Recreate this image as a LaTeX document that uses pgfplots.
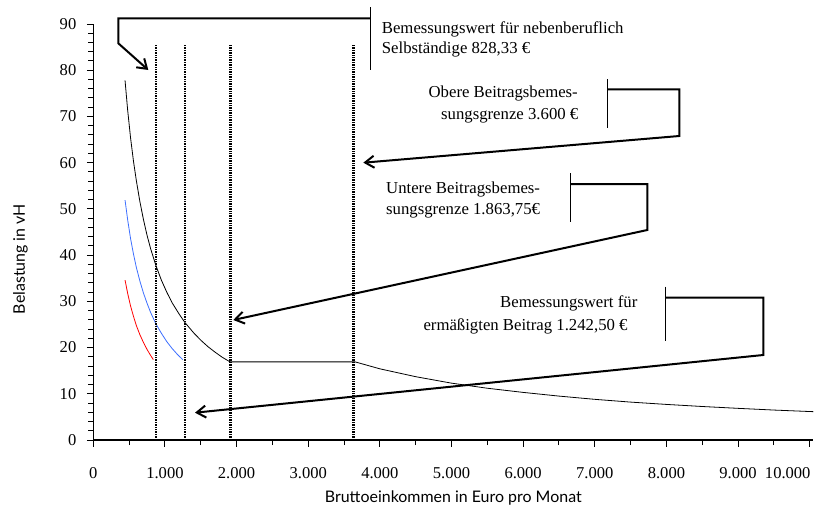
\documentclass[border=0pt]{standalone}
\usepackage{fontspec}
\setmainfont{Liberation Serif}
\newfontfamily\labelfont{Lato}
\usepackage{pgfplots}
\pgfplotsset{compat=1.18}
\usetikzlibrary{arrows.meta}
\newcommand{\annfont}{\fontsize{16.8}{21}\selectfont}
\begin{document}
\begin{tikzpicture}
\path[use as bounding box] (0,0) rectangle (814bp,-508bp);
\begin{axis}[
  at={(93.3bp,-440bp)}, anchor=south west,
  scale only axis, width=720bp, height=416bp,
  xmin=0, xmax=10050, ymin=0, ymax=90,
  axis lines=left, axis line style={-, line width=1.1bp},
  xtick={0,1000,...,10000}, minor x tick num=1,
  xticklabels={0,1.000,2.000,3.000,4.000,5.000,6.000,7.000,8.000,9.000,{\hspace*{-44bp}10.000}},
  ytick={0,10,...,90}, minor y tick num=4,
  scaled ticks=false,
  tick align=outside, tick style={line width=1bp, black},
  major tick length=6.5bp, minor tick length=5bp,
  /pgf/number format/1000 sep={.},
  /pgf/number format/assume math mode=true,
  tick label style={font=\fontsize{16.6}{19}\selectfont},
  xticklabel style={yshift=-17bp},
  yticklabel style={xshift=-7bp},
  xlabel={Bruttoeinkommen in Euro pro Monat},
  ylabel={Belastung in vH},
  label style={font=\labelfont\fontsize{16}{19}\selectfont},
  xlabel style={at={(axis description cs:0.5,-0.1514)}, anchor=base},
  ylabel style={at={(axis description cs:-0.1011,0.435)}, anchor=center},
  clip=false,
]
% black curve
\addplot[black, line width=0.8bp] coordinates {
(443,77.8) (480,71.3) (520,65.4) (560,60.4) (600,56.2) (650,51.6) (700,47.7)
(750,44.3) (800,41.4) (875,37.7) (950,34.6) (1025,32.0) (1100,29.7) (1200,27.2)
(1280,25.4) (1400,23.2) (1500,21.6) (1600,20.2) (1700,19.0) (1800,17.9) (1909,16.9)
(3655,16.9) (4000,15.4) (4500,13.7) (5000,12.3) (5500,11.2) (6000,10.3) (6500,9.5)
(7000,8.8) (7500,8.2) (8000,7.7) (8500,7.25) (9000,6.85) (9500,6.48) (10050,6.13)};
% blue curve
\addplot[color={rgb,255:red,60;green,110;blue,255}, line width=0.8bp] coordinates {
(443,51.9) (480,47.6) (520,43.6) (560,40.3) (600,37.4) (650,34.4) (700,31.8)
(750,29.6) (800,27.6) (875,25.1) (950,23.1) (1025,21.3) (1100,19.8) (1175,18.5) (1248,17.4)};
% red curve
\addplot[color={rgb,255:red,255;green,0;blue,0}, line width=0.8bp] coordinates {
(443,34.6) (480,31.7) (520,29.0) (560,26.8) (600,24.8) (650,22.8) (700,21.1)
(750,19.6) (800,18.3) (838,17.4)};
% dotted vertical markers
\addplot[black, line width=2.8bp, dash pattern=on 1.5bp off 0.9bp] coordinates {(875,0) (875,85.4)};
\addplot[black, line width=2.8bp, dash pattern=on 1.5bp off 0.9bp] coordinates {(1280,0) (1280,85.4)};
\addplot[black, line width=2.8bp, dash pattern=on 1.5bp off 0.9bp] coordinates {(1920,0) (1920,85.4)};
\addplot[black, line width=2.8bp, dash pattern=on 1.5bp off 0.9bp] coordinates {(3630,0) (3630,85.4)};
\end{axis}
\begin{scope}[x=1bp,y=-1bp]
% callout 1
\draw[line width=0.9bp] (370,7) -- (370,70);
\draw[line width=2bp, line join=miter, -{Straight Barb[length=9bp,width=12bp]}] (370,18.3) -- (118.3,18.3) -- (118.3,43.3) -- (148.3,70);
\node[anchor=base west, inner sep=0, font=\annfont] at (381.7,33) {Bemessungswert für nebenberuflich};
\node[anchor=base west, inner sep=0, font=\annfont] at (381.7,53.5) {Selbständige 828,33 €};
% callout 2
\draw[line width=0.9bp] (607.3,79) -- (607.3,128);
\draw[line width=2bp, line join=miter, -{Straight Barb[length=9bp,width=12bp]}] (607.3,89.3) -- (679.3,89.3) -- (679.3,136) -- (363.3,162.7);
\node[anchor=base east, inner sep=0, font=\annfont] at (578,97.5) {Obere Beitragsbemes-};
\node[anchor=base east, inner sep=0, font=\annfont] at (578.5,119) {sungsgrenze 3.600 €};
% callout 3
\draw[line width=0.9bp] (570.7,173.3) -- (570.7,221.7);
\draw[line width=2bp, line join=miter, -{Straight Barb[length=9bp,width=12bp]}] (570.7,184) -- (647.3,184) -- (647.3,230) -- (233.3,320);
\node[anchor=base west, inner sep=0, font=\annfont] at (386,193.3) {Untere Beitragsbemes-};
\node[anchor=base west, inner sep=0, font=\annfont] at (386,214.3) {sungsgrenze 1.863,75€};
% callout 4
\draw[line width=0.9bp] (665,286.7) -- (665,340.7);
\draw[line width=2bp, line join=miter, -{Straight Barb[length=9bp,width=12bp]}] (665,297.7) -- (763.3,297.7) -- (763.3,355) -- (195,412.7);
\node[anchor=base west, inner sep=0, font=\annfont] at (500,307.3) {Bemessungswert für};
\node[anchor=base west, inner sep=0, font=\annfont] at (423.3,330) {ermäßigten Beitrag 1.242,50 €};
\end{scope}
\end{tikzpicture}
\end{document}
